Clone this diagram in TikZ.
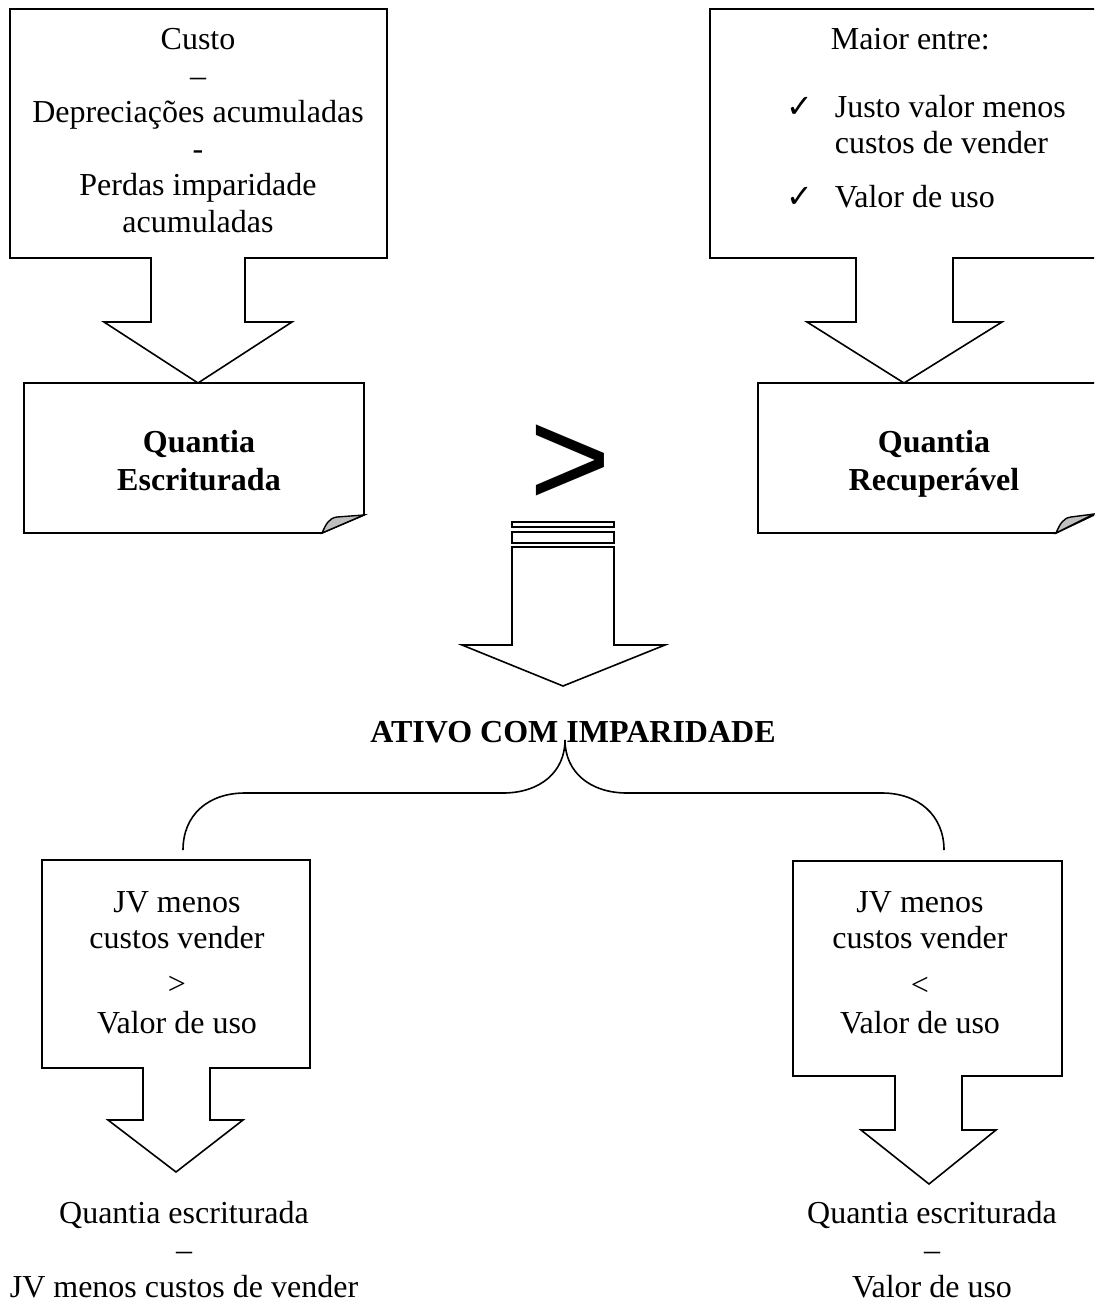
\documentclass[tikz,border=0pt]{standalone}
\usepackage{fontspec}
\setmainfont{Liberation Serif}
\newfontfamily\bigsans{Liberation Sans}
\newfontfamily\symfont{DejaVu Sans}
\begin{document}
\begin{tikzpicture}[x=0.5pt,y=-0.5pt,line width=0.8pt,line join=miter,
  txt/.style={inner sep=0pt,anchor=base,font=\fontsize{16}{18.3}\selectfont},
  txtw/.style={inner sep=0pt,anchor=base west,font=\fontsize{16}{18.3}\selectfont},
  bld/.style={inner sep=0pt,anchor=base,font=\fontsize{16}{18.3}\selectfont\bfseries},
  chk/.style={inner sep=0pt,anchor=base west,font=\fontsize{16}{18}\symfont},
  outline/.style={draw=black,fill=white},
  flap/.style={draw=black,fill=black!25,line width=0.7pt}]
\useasboundingbox (0,0) rectangle (1094,1302);

% ---------- top-left callout ----------
\draw[outline] (10,9) -- (387,9) -- (387,258) -- (245,258) -- (245,322) -- (292,322)
  -- (198,383) -- (104,322) -- (151,322) -- (151,258) -- (10,258) -- cycle;
\node[txt] (tl1) at (198,49) {Custo};
\node[txt] (tl2) at (198,86) {–};
\node[txt] (tl3) at (198,122) {Depreciações acumuladas};
\node[txt] (tl4) at (198,159) {-};
\node[txt] (tl5) at (198,195) {Perdas imparidade};
\node[txt] (tl6) at (198,232) {acumuladas};

% ---------- top-right callout ----------
\draw[outline] (1094,9) -- (710,9) -- (710,258) -- (856,258) -- (856,322) -- (807,322)
  -- (904,383) -- (1002,322) -- (953,322) -- (953,258) -- (1094,258);
\node[txtw] (tr1) at (830,49) {Maior entre:};
\node[chk] (c1) at (786,117) {✓};
\node[txtw] (tr2) at (834,117) {Justo valor menos};
\node[txtw] (tr3) at (834,153) {custos de vender};
\node[chk] (c2) at (786,207) {✓};
\node[txtw] (tr4) at (834,207) {Valor de uso};

% ---------- Quantia Escriturada ----------
\draw[outline] (24,383) -- (364,383) -- (364,515) -- (322,533) -- (24,533) -- cycle;
\draw[flap] (322,533) .. controls (326,524) and (329,518) .. (337,517) -- (364,515) -- cycle;
\node[bld] (qe1) at (199,452) {Quantia};
\node[bld] (qe2) at (199,490) {Escriturada};

% ---------- Quantia Recuperavel ----------
\draw[outline] (1094,383) -- (758,383) -- (758,533) -- (1056,533) -- (1094,515);
\draw[flap] (1056,533) .. controls (1060,524) and (1063,518) .. (1071,517) -- (1094,514) -- cycle;
\node[bld] (qr1) at (934,452) {Quantia};
\node[bld] (qr2) at (934,490) {Recuperável};

% ---------- big greater sign ----------
\node[inner sep=0pt,anchor=base,font=\fontsize{70}{80}\bigsans] (gt) at (570,506) {>};

% ---------- striped arrow ----------
\draw[outline] (512,522) rectangle (614,527);
\draw[outline] (512,532) rectangle (614,543);
\draw[outline] (512,547) -- (512,645) -- (462,645) -- (563,686) -- (665,645) -- (614,645)
  -- (614,547) -- cycle;

% ---------- ATIVO COM IMPARIDADE + brace ----------
\node[bld] (ativo) at (573,742) {ATIVO COM IMPARIDADE};
\coordinate (btip) at (565,740);
\coordinate (bleft) at (183,850);
\coordinate (bright) at (944,850);
\draw (bleft) .. controls (183,815) and (208,793) .. (245,793) -- (503,793)
  .. controls (540,793) and (565,772) .. (btip);
\draw (btip) .. controls (565,772) and (590,793) .. (627,793) -- (882,793)
  .. controls (918,793) and (944,815) .. (bright);

% ---------- bottom-left callout ----------
\draw[outline] (42,860) -- (310,860) -- (310,1068) -- (210,1068) -- (210,1120) -- (243,1120)
  -- (176,1172) -- (108,1120) -- (143,1120) -- (143,1068) -- (42,1068) -- cycle;
\node[txt] (bl1) at (177,912) {JV menos};
\node[txt] (bl2) at (177,948) {custos vender};
\node[txt] (bl3) at (177,994) {>};
\node[txt] (bl4) at (177,1033) {Valor de uso};
\node[txt] (bo1) at (184,1223) {Quantia escriturada};
\node[txt] (bo2) at (184,1260) {–};
\node[txt] (bo3) at (184,1297) {JV menos custos de vender};

% ---------- bottom-right callout ----------
\draw[outline] (793,861) -- (1062,861) -- (1062,1076) -- (962,1076) -- (962,1130) -- (996,1130)
  -- (929,1184) -- (861,1130) -- (895,1130) -- (895,1076) -- (793,1076) -- cycle;
\node[txt] (br1) at (920,912) {JV menos};
\node[txt] (br2) at (920,948) {custos vender};
\node[txt] (br3) at (920,995) {<};
\node[txt] (br4) at (920,1033) {Valor de uso};
\node[txt] (ro1) at (932,1223) {Quantia escriturada};
\node[txt] (ro2) at (932,1260) {–};
\node[txt] (ro3) at (932,1297) {Valor de uso};
\end{tikzpicture}
\end{document}
